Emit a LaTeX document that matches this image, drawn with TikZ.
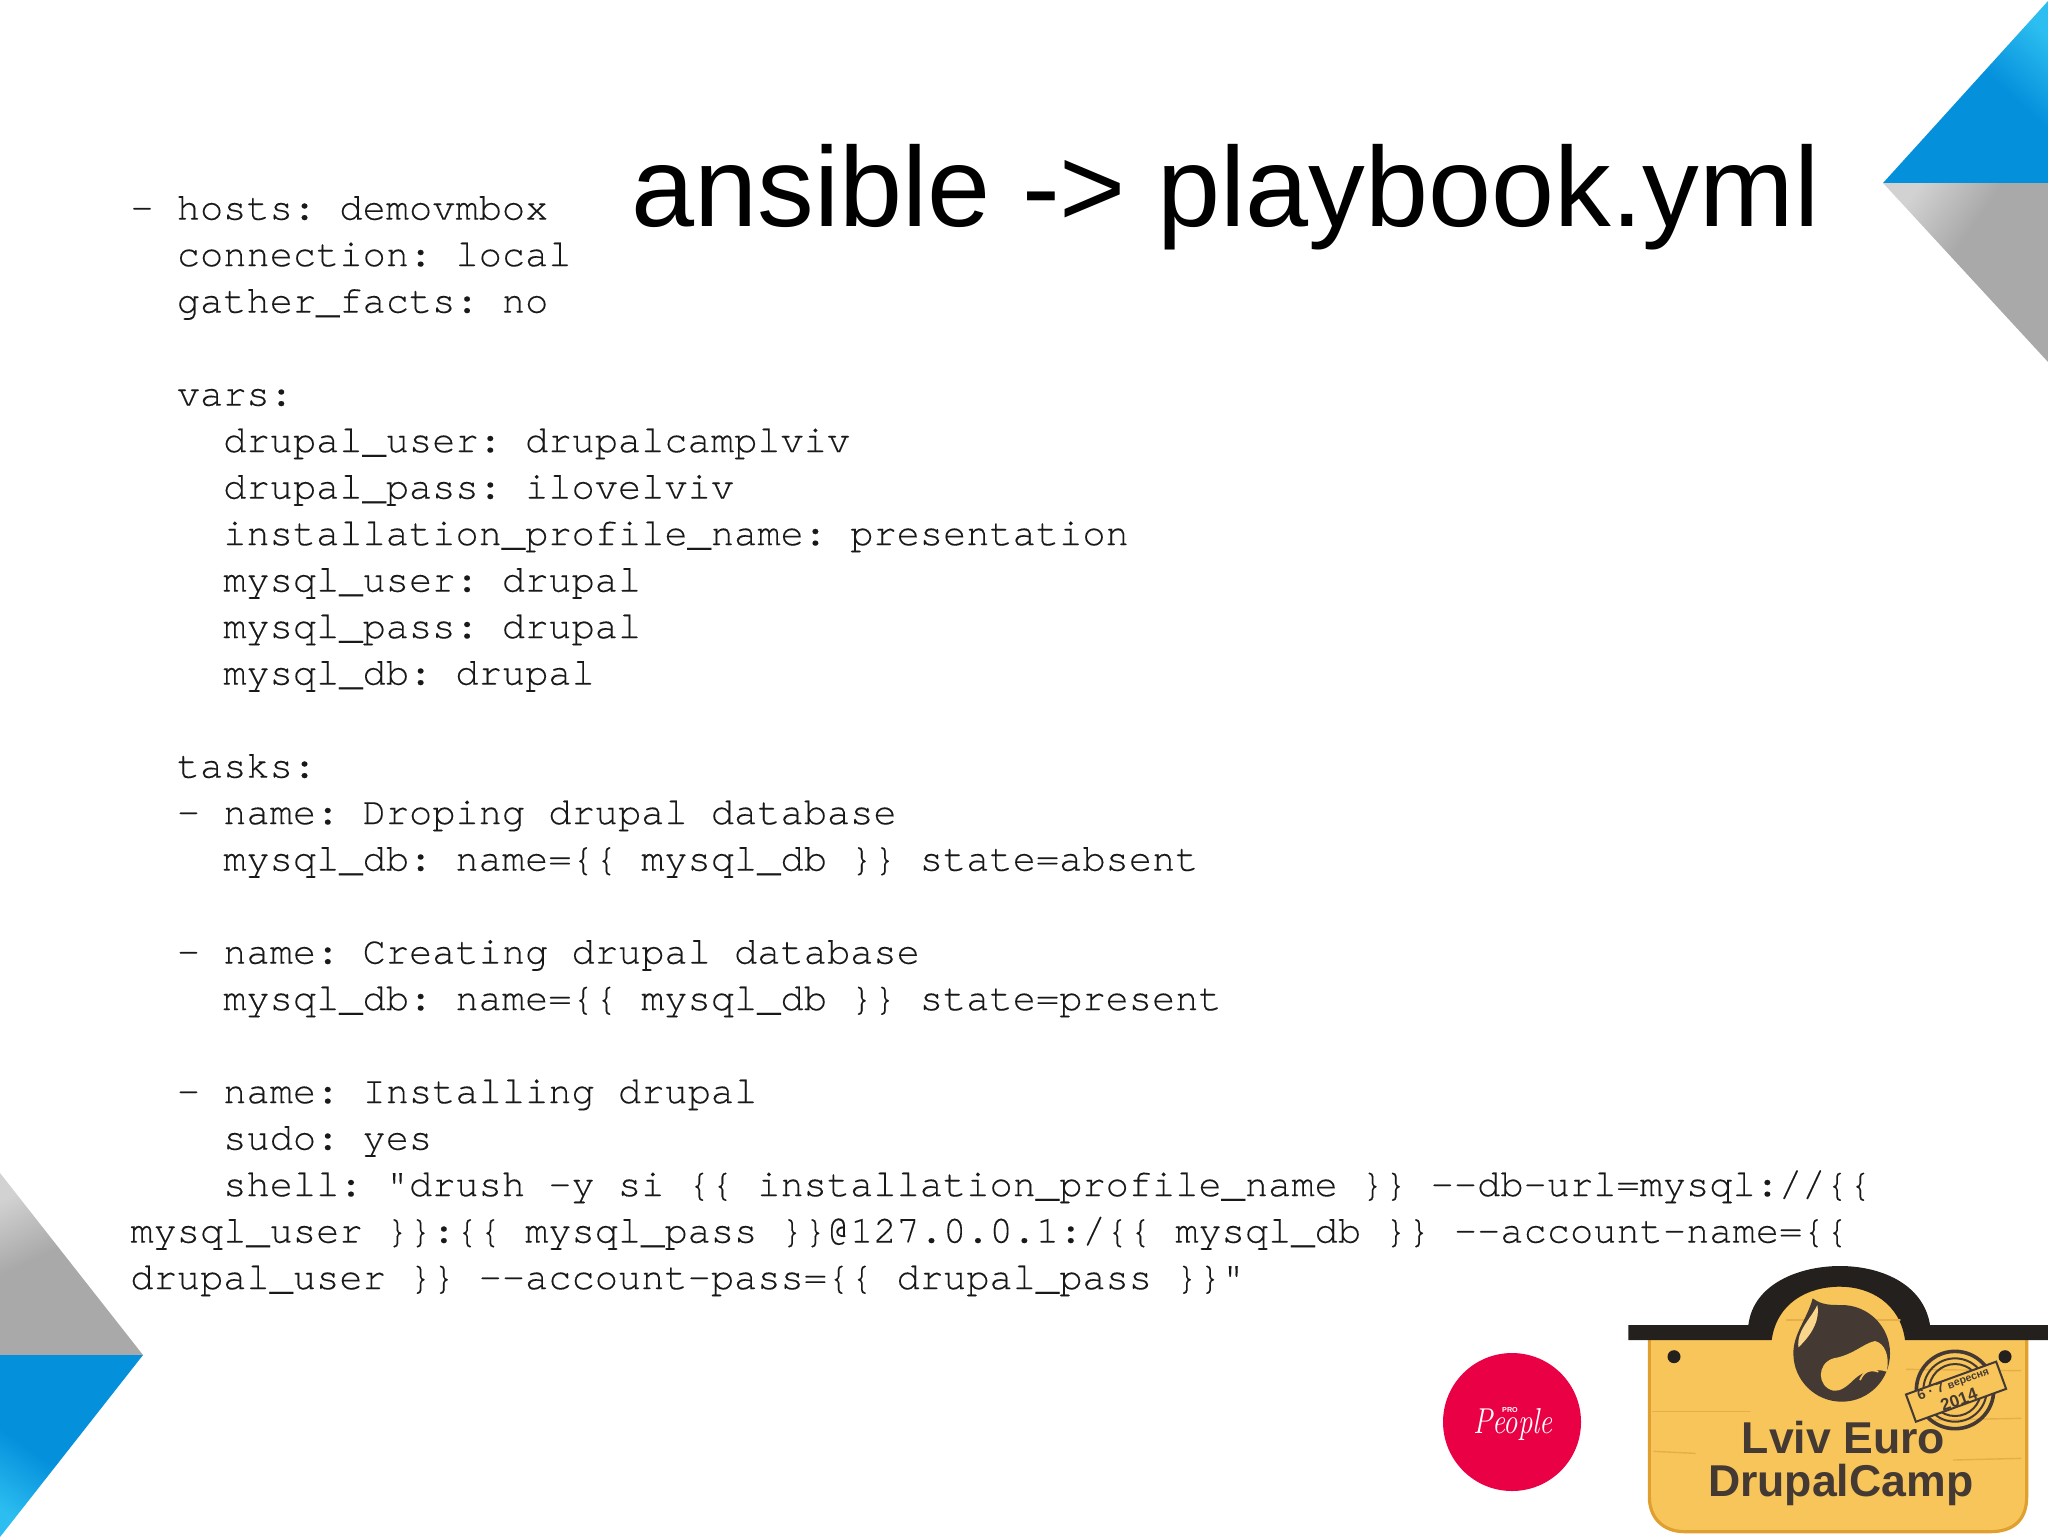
\documentclass[tikz,border=0pt]{standalone}
\usepackage{fontspec}
\setmainfont{Liberation Sans}
\setmonofont[Ligatures=NoCommon,FakeBold=0.2]{TeX Gyre Cursor}
\newfontfamily\scriptish{Latin Modern Roman}
\usetikzlibrary{shapes.geometric}
\definecolor{bluelight}{HTML}{2CBEF0}
\definecolor{bluedark}{HTML}{0590DC}
\definecolor{graylight}{HTML}{D2D2D2}
\definecolor{graydark}{HTML}{A9A9A9}
\definecolor{signyellow}{HTML}{F7C559}
\definecolor{signedge}{HTML}{E0A030}
\definecolor{signdark}{HTML}{453A33}
\definecolor{barblack}{HTML}{24201E}
\definecolor{plank}{HTML}{E5AE48}
\definecolor{peoplered}{HTML}{EA0044}
\pgfdeclareverticalshading{bluegrad}{100bp}{color(0bp)=(bluedark); color(50bp)=(bluedark); color(58bp)=(bluedark); color(78bp)=(bluelight); color(100bp)=(bluelight)}
\pgfdeclareverticalshading{graygrad}{100bp}{color(0bp)=(graydark); color(50bp)=(graydark); color(56bp)=(graydark); color(76bp)=(graylight); color(100bp)=(graylight)}
\newcommand{\ind}[1]{\hspace*{#1\dimexpr 11.61pt\relax}}
\tikzset{
  plankline/.style={draw=plank,line width=0.7pt,line cap=round},
  hole/.style={circle,fill=barblack,draw=none,minimum size=6.5pt,inner sep=0pt},
  signtext/.style={font=\fontsize{22.3}{24}\selectfont\bfseries,text=signdark,inner sep=0pt,anchor=base},
  stamptext/.style={draw=signdark,line width=1pt,fill=signyellow,rotate=20,inner sep=0pt,minimum width=48pt,minimum height=14.5pt,align=center,text=signdark}
}
\begin{document}
\begin{tikzpicture}[x=0.5pt,y=-0.5pt]
\useasboundingbox (0,0) rectangle (2048,1537);
% corner triangles
\shade[shading=bluegrad,shading angle=-42] (1883,183) -- (2048,1) -- (2048,183) -- cycle;
\shade[shading=graygrad,shading angle=55] (1883,183) -- (2048,183) -- (2048,362) -- cycle;
\shade[shading=graygrad,shading angle=25] (0,1173) -- (143,1355) -- (0,1355) -- cycle;
\shade[shading=bluegrad,shading angle=145] (0,1355) -- (143,1355) -- (0,1537) -- cycle;
% title
\node[anchor=base west,inner sep=0pt,font=\fontsize{56.7}{60}\selectfont] (title) at (631,226) {ansible -> playbook.yml};
% code
\node[anchor=north west,inner sep=0pt,align=left,text=black!90,font=\ttfamily\fontsize{19.35}{23.25}\selectfont] (code) at (130,195.8) {%
- hosts: demovmbox\\
\ind{2}connection: local\\
\ind{2}gather\_facts: no\\
\mbox{}\\
\ind{2}vars:\\
\ind{4}drupal\_user: drupalcamplviv\\
\ind{4}drupal\_pass: ilovelviv\\
\ind{4}installation\_profile\_name: presentation\\
\ind{4}mysql\_user: drupal\\
\ind{4}mysql\_pass: drupal\\
\ind{4}mysql\_db: drupal\\
\mbox{}\\
\ind{2}tasks:\\
\ind{2}- name: Droping drupal database\\
\ind{4}mysql\_db: name=\{\{ mysql\_db \}\} state=absent\\
\mbox{}\\
\ind{2}- name: Creating drupal database\\
\ind{4}mysql\_db: name=\{\{ mysql\_db \}\} state=present\\
\mbox{}\\
\ind{2}- name: Installing drupal\\
\ind{4}sudo: yes\\
\ind{4}shell: "drush -y si \{\{ installation\_profile\_name \}\} {-}{-}db-url=mysql://\{\{\\
mysql\_user \}\}:\{\{ mysql\_pass \}\}@127.0.0.1:/\{\{ mysql\_db \}\} {-}{-}account-name=\{\{\\
drupal\_user \}\} {-}{-}account-pass=\{\{ drupal\_pass \}\}"};
% ProPeople logo
\node[circle,fill=peoplered,minimum size=69pt,inner sep=0pt] (propeople) at (1512,1422) {};
\node[text=white,inner sep=0pt,anchor=base,xscale=0.8,font=\fontsize{18}{19}\selectfont\scriptish\itshape] (peopleword) at (1513,1433) {People};
\node[text=white,inner sep=0pt,font=\fontsize{3.6}{4}\selectfont\bfseries] (proword) at (1510,1410) {PRO};
% Drupal camp sign
\begin{scope}[shift={(1600,1240)},x=0.16667pt,y=-0.16667pt]
\path[fill=signyellow,draw=signedge,line width=1.6pt]
  (148,295) -- (510,295) .. controls (530,180) and (630,135) .. (720,135) .. controls (810,135) and (900,180) .. (925,295) -- (1280,295)
  -- (1280,770) .. controls (1280,840) and (1240,875) .. (1170,875) -- (255,875) .. controls (185,875) and (148,830) .. (148,770) -- cycle;
\fill[barblack] (85,255) -- (445,255) .. controls (460,130) and (600,78) .. (720,78) .. controls (840,78) and (970,130) .. (990,255) -- (1344,255) -- (1344,300) -- (915,300) .. controls (900,190) and (810,140) .. (720,140) .. controls (620,140) and (530,190) .. (515,300) -- (85,300) -- cycle;
\draw[plankline] (158,515) -- (450,515);
\draw[plankline] (162,634) -- (285,640);
\draw[plankline] (1060,660) -- (1262,655);
\draw[plankline] (1000,540) -- (1262,535);
\draw[plankline] (920,388) -- (1262,392);
\draw[plankline] (560,240) -- (900,240);
\node[hole] (holeleft) at (222,350) {};
\node[hole] (holeright) at (1215,350) {};
% drop
\fill[signdark] (638,175) .. controls (665,195) and (690,195) .. (725,195) arc[start angle=-90,end angle=90,radius=145] arc[start angle=90,end angle=180,radius=145] .. controls (580,280) and (620,240) .. cycle;
\fill[signyellow!70!white] (595,322) .. controls (590,270) and (630,240) .. (652,195) .. controls (660,235) and (640,280) .. (595,322) -- cycle;
\fill[signyellow] (700,452) .. controls (650,440) and (650,370) .. (700,355) .. controls (760,345) and (790,310) .. (825,303) .. controls (855,310) and (870,350) .. (860,395) .. controls (830,385) and (790,390) .. (760,420) .. controls (740,440) and (720,455) .. (700,452) -- cycle;
\draw[signyellow,line width=0.9pt] (780,420) .. controls (790,395) and (810,385) .. (835,395);
% stamp
\draw[signdark,line width=1.8pt] (1065,450) circle[radius=116];
\draw[signdark,line width=1pt] (1065,450) circle[radius=95];
\draw[signdark,line width=1pt] (1065,450) circle[radius=78];
\node[stamptext] (stamp) at (1068,455) {\bfseries\fontsize{7}{7}\selectfont 6 · 7 {\fontsize{5.3}{5.3}\selectfont вересня}\\[-2.5pt]\bfseries\fontsize{8.5}{7.5}\selectfont 2014};
% name
\node[signtext] (signa) at (730,640) {Lviv Euro};
\node[signtext] (signb) at (722,768) {DrupalCamp};
\end{scope}
\end{tikzpicture}
\end{document}
